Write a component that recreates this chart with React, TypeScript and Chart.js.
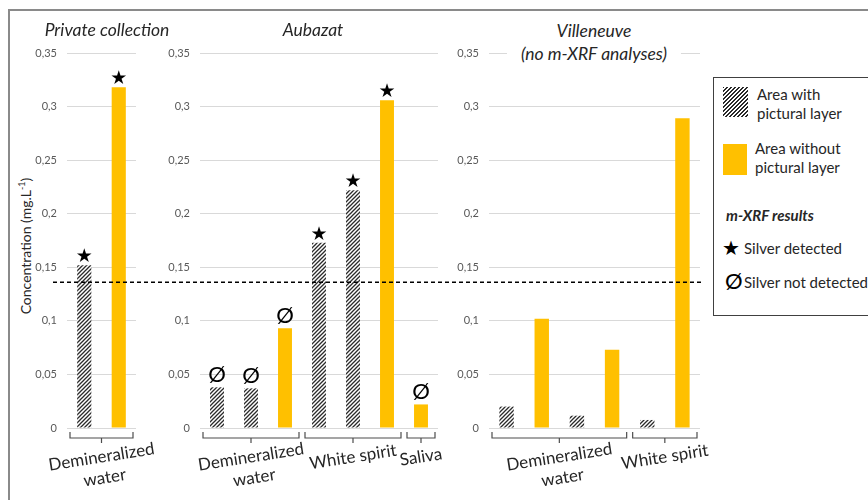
import React, { useEffect, useRef } from "react";
import { Chart, registerables } from "chart.js";

Chart.register(...registerables);

// ---------- data ----------
const yTickLabels = ["0", "0,05", "0,1", "0,15", "0,2", "0,25", "0,3", "0,35"];
const yStep = 0.05;
const yMax = 0.35;
const detectionLimit = 0.136;

const privateMedium = ["Demineralized water", "Demineralized water"];
const privateLayer = ["with", "without"];
const privateValues = [0.152, 0.318];
const privateXrf = ["detected", "detected"];

const aubazatMedium = [
  "Demineralized water",
  "Demineralized water",
  "Demineralized water",
  "White spirit",
  "White spirit",
  "White spirit",
  "Saliva",
];
const aubazatLayer = ["with", "with", "without", "with", "with", "without", "without"];
const aubazatValues = [0.038, 0.037, 0.093, 0.173, 0.222, 0.306, 0.022];
const aubazatXrf = ["not", "not", "not", "detected", "detected", "detected", "not"];

const villeneuveMedium = [
  "Demineralized water",
  "Demineralized water",
  "Demineralized water",
  "Demineralized water",
  "White spirit",
  "White spirit",
];
const villeneuveLayer = ["with", "without", "with", "without", "with", "without"];
const villeneuveValues = [0.02, 0.102, 0.0115, 0.073, 0.0075, 0.289];
const villeneuveXrf = ["", "", "", "", "", ""];

const seriesNames = ["Area with pictural layer", "Area without pictural layer"];

// ---------- styles ----------
const ORANGE = "#FFC000";
const TEXT = "#262626";
const FONT = "Lato, 'Open Sans', sans-serif";

function makeHatch(): CanvasPattern | string {
  const c = document.createElement("canvas");
  c.width = 4;
  c.height = 4;
  const g = c.getContext("2d");
  if (!g) return "#555";
  g.fillStyle = "#ffffff";
  g.fillRect(0, 0, 4, 4);
  g.strokeStyle = "#2a2a2a";
  g.lineWidth = 1.3;
  g.beginPath();
  g.moveTo(0, 4);
  g.lineTo(4, 0);
  g.moveTo(-1, 1);
  g.lineTo(1, -1);
  g.moveTo(3, 5);
  g.lineTo(5, 3);
  g.stroke();
  return g.createPattern(c, "repeat") || "#555";
}

function wrapLines(ctx: CanvasRenderingContext2D, text: string, maxW: number): string[] {
  const words = text.split(" ");
  const lines: string[] = [];
  let cur = "";
  for (const w of words) {
    const t = cur ? cur + " " + w : w;
    if (cur && ctx.measureText(t).width > maxW) {
      lines.push(cur);
      cur = w;
    } else cur = t;
  }
  if (cur) lines.push(cur);
  return lines;
}

const groupPlugin = {
  id: "groupAxis",
  afterDraw(chart: any) {
    const xs = chart.scales.x;
    const ctx: CanvasRenderingContext2D = chart.ctx;
    const labels: string[] = chart.data.labels;
    const n = labels.length;
    const half = xs.width / n / 2;
    const base = chart.chartArea.bottom;
    const draw = (s: number, e: number) => {
      const l = xs.getPixelForValue(s) - half + 3;
      const r = xs.getPixelForValue(e) + half - 3;
      const cx = (l + r) / 2;
      ctx.save();
      ctx.strokeStyle = "#4d4d4d";
      ctx.lineWidth = 1.2;
      ctx.beginPath();
      ctx.moveTo(l, base + 4);
      ctx.lineTo(l, base + 10);
      ctx.lineTo(r, base + 10);
      ctx.lineTo(r, base + 4);
      ctx.moveTo(cx, base + 10);
      ctx.lineTo(cx, base + 15);
      ctx.stroke();
      ctx.font = `17px ${FONT}`;
      ctx.fillStyle = TEXT;
      ctx.textAlign = "center";
      ctx.textBaseline = "middle";
      const lines = wrapLines(ctx, labels[s], 110);
      ctx.translate(cx, base + 29);
      ctx.rotate((-9 * Math.PI) / 180);
      lines.forEach((ln, k) => ctx.fillText(ln, 0, k * 21));
      ctx.restore();
    };
    let s = 0;
    for (let i = 1; i <= n; i++) {
      if (i === n || labels[i] !== labels[s]) {
        draw(s, i - 1);
        s = i;
      }
    }
  },
};

const markerPlugin = {
  id: "xrfMarkers",
  afterDatasetsDraw(chart: any) {
    const xrf: string[] = chart.options.plugins.xrfMarkers.xrf;
    const ctx: CanvasRenderingContext2D = chart.ctx;
    xrf.forEach((m, i) => {
      if (!m) return;
      let el: any = null;
      chart.data.datasets.forEach((ds: any, d: number) => {
        if (ds.data[i] !== null && ds.data[i] !== undefined) el = chart.getDatasetMeta(d).data[i];
      });
      if (!el) return;
      ctx.save();
      ctx.fillStyle = "#000";
      ctx.textAlign = "center";
      ctx.textBaseline = "alphabetic";
      if (m === "detected") {
        ctx.font = `19px "DejaVu Sans"`;
        ctx.fillText("★", el.x, el.y - 3);
      } else {
        ctx.font = `22px ${FONT}`;
        ctx.fillText("Ø", el.x, el.y - 5);
      }
      ctx.restore();
    });
  },
};

const limitPlugin = {
  id: "limitLine",
  afterDatasetsDraw(chart: any) {
    const opt = chart.options.plugins.limitLine;
    if (!opt || !opt.show) return;
    const ctx: CanvasRenderingContext2D = chart.ctx;
    const y = chart.scales.y.getPixelForValue(detectionLimit);
    ctx.save();
    ctx.strokeStyle = "#000";
    ctx.lineWidth = 1.4;
    ctx.setLineDash([4, 3]);
    ctx.beginPath();
    ctx.moveTo(opt.from, y);
    ctx.lineTo(chart.chartArea.right + 3, y);
    ctx.stroke();
    ctx.restore();
  },
};

type PanelCfg = {
  medium: string[];
  layer: string[];
  values: number[];
  xrf: string[];
  left: number;
  right: number;
  limit?: boolean;
};

const W = 868;
const H = 500;
const TOP = 53;
const BOTTOM = 428;
const YAXIS_W = 40;

function makeChart(canvas: HTMLCanvasElement, cfg: PanelCfg, hatch: any) {
  const withData = cfg.values.map((v, i) => (cfg.layer[i] === "with" ? v : null));
  const withoutData = cfg.values.map((v, i) => (cfg.layer[i] === "without" ? v : null));
  return new Chart(canvas, {
    type: "bar",
    data: {
      labels: cfg.medium,
      datasets: [
        { label: seriesNames[0], data: withData, backgroundColor: hatch, grouped: false, barPercentage: 0.41, categoryPercentage: 1 } as any,
        { label: seriesNames[1], data: withoutData, backgroundColor: ORANGE, grouped: false, barPercentage: 0.41, categoryPercentage: 1 } as any,
      ],
    },
    options: {
      responsive: false,
      maintainAspectRatio: false,
      animation: false,
      events: [],
      layout: {
        padding: { left: cfg.left - YAXIS_W, right: W - cfg.right, top: TOP, bottom: H - BOTTOM },
      },
      plugins: {
        legend: { display: false },
        title: { display: false },
        tooltip: { enabled: false },
        xrfMarkers: { xrf: cfg.xrf },
        limitLine: { show: !!cfg.limit, from: 53 },
      } as any,
      scales: {
        x: { display: false, offset: true },
        y: {
          min: 0,
          max: yMax,
          afterFit: (s: any) => {
            s.width = YAXIS_W;
          },
          border: { display: false },
          grid: { color: "#d9d9d9", drawTicks: false, lineWidth: 1 },
          ticks: {
            stepSize: yStep,
            padding: 10,
            color: "#595959",
            font: { family: FONT, size: 11 },
            callback: (v: any) => yTickLabels[Math.round(Number(v) / yStep)],
          },
        },
      },
    },
    plugins: [groupPlugin, markerPlugin, limitPlugin],
  } as any);
}

const panels: PanelCfg[] = [
  { medium: privateMedium, layer: privateLayer, values: privateValues, xrf: privateXrf, left: 67, right: 136 },
  { medium: aubazatMedium, layer: aubazatLayer, values: aubazatValues, xrf: aubazatXrf, left: 200, right: 438 },
  { medium: villeneuveMedium, layer: villeneuveLayer, values: villeneuveValues, xrf: villeneuveXrf, left: 489, right: 700, limit: true },
];

const abs = (o: React.CSSProperties): React.CSSProperties => ({ position: "absolute", ...o });

export default function App() {
  const refs = [useRef<HTMLCanvasElement>(null), useRef<HTMLCanvasElement>(null), useRef<HTMLCanvasElement>(null)];
  useEffect(() => {
    const hatch = makeHatch();
    const charts = panels.map((p, i) => makeChart(refs[i].current as HTMLCanvasElement, p, hatch));
    return () => charts.forEach((c) => c.destroy());
  }, []);

  const titleStyle: React.CSSProperties = {
    fontStyle: "italic",
    fontSize: 17.5,
    color: TEXT,
    whiteSpace: "nowrap",
    textAlign: "center",
    transform: "translateX(-50%)",
  };
  const legText: React.CSSProperties = { fontSize: 15, color: TEXT, whiteSpace: "nowrap", lineHeight: "19px" };

  return (
    <div style={abs({ left: 0, top: 0, width: W, height: H, overflow: "hidden", background: "#fff", fontFamily: FONT })}>
      <div style={abs({ left: 8, top: 9, width: 900, height: 600, border: "2px solid #8a8a8a" })} />
      <div
        style={abs({
          left: 25,
          top: 246,
          transform: "translate(-50%, -50%) rotate(-90deg)",
          fontSize: 14,
          color: TEXT,
          whiteSpace: "nowrap",
        })}
      >
        Concentration (mg.L<sup style={{ fontSize: 9 }}>-1</sup>)
      </div>
      {refs.map((r, i) => (
        <canvas key={i} ref={r} width={W} height={H} style={abs({ left: 0, top: 0, width: W, height: H })} />
      ))}
      <div style={abs({ left: 107, top: 19, lineHeight: "22px", ...titleStyle })}>Private collection</div>
      <div style={abs({ left: 313, top: 19, lineHeight: "22px", ...titleStyle })}>Aubazat</div>
      <div style={abs({ left: 594, top: 19, lineHeight: "23px", padding: "0 14px", background: "#fff", ...titleStyle })}>
        Villeneuve
        <br />
        (no m-XRF analyses)
      </div>
      <div style={abs({ left: 713, top: 77, width: 170, height: 237, border: "1.5px solid #404040", background: "#fff" })} />
      <div
        style={abs({
          left: 723,
          top: 87,
          width: 25,
          height: 30,
          background: "repeating-linear-gradient(135deg, #2a2a2a 0px, #2a2a2a 1.3px, #ffffff 1.3px, #ffffff 2.8px)",
        })}
      />
      <div style={abs({ left: 757, top: 85, ...legText })}>
        Area with
        <br />
        pictural layer
      </div>
      <div style={abs({ left: 723, top: 144, width: 24, height: 31, background: ORANGE })} />
      <div style={abs({ left: 755, top: 139, ...legText })}>
        Area without
        <br />
        pictural layer
      </div>
      <div style={abs({ left: 726, top: 205, fontSize: 15, fontWeight: 700, fontStyle: "italic", color: TEXT, lineHeight: "20px" })}>
        m-XRF results
      </div>
      <div style={abs({ left: 722, top: 236, fontSize: 20, fontFamily: "'DejaVu Sans'", color: "#000", lineHeight: "24px" })}>★</div>
      <div style={abs({ left: 744, top: 238, ...legText, lineHeight: "20px" })}>Silver detected</div>
      <div style={abs({ left: 725, top: 269, fontSize: 22, color: "#000", lineHeight: "24px" })}>Ø</div>
      <div style={abs({ left: 744, top: 272, ...legText, lineHeight: "20px" })}>Silver not detected</div>
    </div>
  );
}
